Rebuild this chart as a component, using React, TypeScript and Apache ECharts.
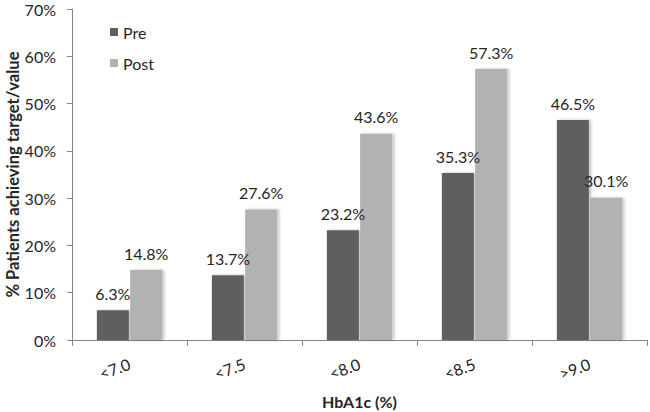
import React, { useEffect, useRef } from "react";
import * as echarts from "echarts";

const categories = ["<7.0", "<7.5", "<8.0", "<8.5", ">9.0"];
const preValues = [6.3, 13.7, 23.2, 35.3, 46.5];
const postValues = [14.8, 27.6, 43.6, 57.3, 30.1];
const seriesNames = ["Pre", "Post"];
const xTitle = "HbA1c (%)";
const yTitle = "% Patients achieving target/value";

const FONT = "Lato";

export default function App() {
  const ref = useRef<HTMLDivElement>(null);
  useEffect(() => {
    if (!ref.current) return;
    const chart = echarts.init(ref.current, undefined, { renderer: "svg" });
    const labelCfg = {
      show: true,
      position: "top",
      distance: 9,
      color: "#262626",
      fontFamily: FONT,
      fontSize: 16,
      formatter: (p: any) => p.value.toFixed(1) + "%",
    };
    const shadow = {
      shadowColor: "rgba(0,0,0,0.25)",
      shadowBlur: 3,
      shadowOffsetX: 2,
      shadowOffsetY: 0,
    };
    chart.setOption({
      animation: false,
      backgroundColor: "#ffffff",
      grid: { left: 72, right: 3, top: 9, bottom: 72, outerBoundsMode: "none", containLabel: false },
      legend: {
        orient: "vertical",
        left: 105,
        top: 19,
        itemWidth: 8,
        itemHeight: 8,
        itemGap: 15,
        icon: "rect",
        textStyle: { fontFamily: FONT, fontSize: 16, color: "#262626" },
        data: seriesNames,
      },
      xAxis: {
        type: "category",
        data: categories,
        name: xTitle,
        nameLocation: "middle",
        nameGap: 53,
        nameMoveOverlap: false,
        nameTextStyle: { fontFamily: FONT, fontSize: 16, fontWeight: "bold", color: "#262626" },
        axisLine: { lineStyle: { color: "#868686", width: 1 } },
        axisTick: { show: true, length: 6, lineStyle: { color: "#868686" } },
        axisLabel: {
          rotate: 20,
          margin: 23,
          fontFamily: FONT,
          fontSize: 16,
          color: "#262626",
        },
      },
      yAxis: {
        type: "value",
        min: 0,
        max: 70,
        interval: 10,
        name: yTitle,
        nameLocation: "middle",
        nameGap: 51,
        nameMoveOverlap: false,
        nameTextStyle: { fontFamily: FONT, fontSize: 16.5, fontWeight: "bold", color: "#262626" },
        axisLine: { show: true, lineStyle: { color: "#868686", width: 1 } },
        axisTick: { show: true, length: 5, lineStyle: { color: "#868686" } },
        splitLine: { show: false },
        axisLabel: {
          margin: 16,
          fontFamily: FONT,
          fontSize: 16,
          color: "#262626",
          formatter: (v: number) => v + "%",
        },
      },
      series: [
        {
          name: seriesNames[0],
          type: "bar",
          data: preValues,
          barWidth: 32,
          barGap: "4%",
          itemStyle: { color: "#5f5f5f", ...shadow },
          label: labelCfg,
        },
        {
          name: seriesNames[1],
          type: "bar",
          data: postValues,
          barWidth: 32,
          itemStyle: { color: "#b2b2b2", ...shadow },
          label: labelCfg,
        },
      ],
    });
    return () => chart.dispose();
  }, []);
  return (
    <div
      ref={ref}
      style={{ position: "fixed", left: 0, top: 0, width: 650, height: 412 }}
    />
  );
}
